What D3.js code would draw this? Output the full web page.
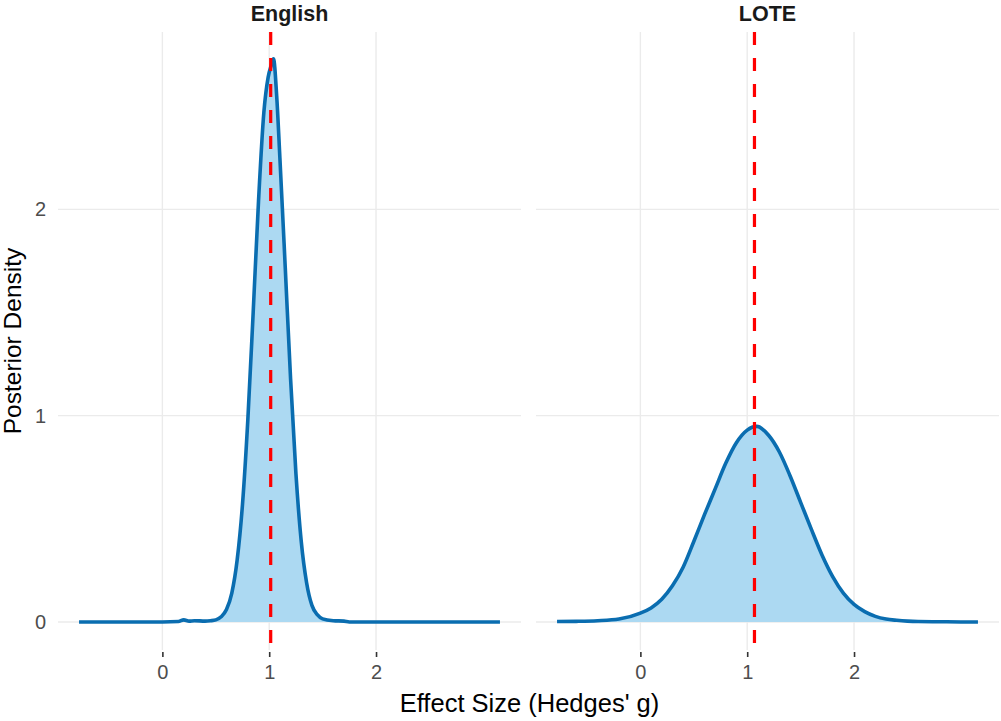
<!DOCTYPE html>
<html>
<head>
<meta charset="utf-8">
<script src="https://cdn.jsdelivr.net/npm/d3@7"></script>
<style>
  body { margin: 0; background: #fff; }
  text { font-family: "Liberation Sans", Arial, sans-serif; }
</style>
</head>
<body>
<div id="container"></div>
<script>
/* DATA */
const facets = ["English", "LOTE"];
const xTicks = [0, 1, 2];
const yTicks = [0, 1, 2];
const medians = [1.014, 1.068];

const englishX = [-0.78, -0.5, 0.0, 0.15, 0.2, 0.25, 0.3, 0.4, 0.45, 0.5, 0.55, 0.6, 0.65, 0.7, 0.75, 0.8, 0.85, 0.9, 0.95, 0.99, 1.02, 1.04, 1.07, 1.1, 1.15, 1.2, 1.25, 1.3, 1.35, 1.4, 1.45, 1.5, 1.6, 1.7, 1.75, 2.0, 2.5, 3.16];
const englishDensity = [0.0, 0.0, 0.0, 0.002, 0.01, 0.004, 0.006, 0.004, 0.006, 0.01, 0.025, 0.06, 0.14, 0.30, 0.57, 0.98, 1.50, 2.04, 2.47, 2.64, 2.70, 2.73, 2.55, 2.25, 1.72, 1.18, 0.72, 0.39, 0.19, 0.08, 0.035, 0.015, 0.006, 0.004, 0.0, 0.0, 0.0, 0.0];

const loteX = [-0.78, -0.6, -0.4, -0.2, 0.0, 0.1, 0.2, 0.3, 0.4, 0.5, 0.6, 0.7, 0.8, 0.9, 1.0, 1.09, 1.2, 1.3, 1.4, 1.5, 1.6, 1.7, 1.8, 1.9, 2.0, 2.1, 2.2, 2.3, 2.4, 2.5, 2.6, 2.8, 3.0, 3.16];
const loteDensity = [0.002, 0.003, 0.006, 0.014, 0.043, 0.068, 0.11, 0.175, 0.265, 0.39, 0.52, 0.645, 0.77, 0.87, 0.93, 0.948, 0.905, 0.825, 0.71, 0.58, 0.45, 0.325, 0.22, 0.14, 0.085, 0.05, 0.027, 0.014, 0.008, 0.004, 0.002, 0.001, 0.0, 0.0];

const series = [
  englishX.map((x, i) => ({ x, y: englishDensity[i] })),
  loteX.map((x, i) => ({ x, y: loteDensity[i] }))
];

/* LAYOUT */
const width = 1001, height = 721;
const panelW = 463, panelGap = 15, panelLeft = 58;
const panelTop = 32, panelBottom = 650;

const svg = d3.select("#container")
  .append("svg")
  .attr("width", width)
  .attr("height", height);

const x = d3.scaleLinear().domain([-0.977, 3.357]).range([0, panelW]);
const y = d3.scaleLinear().domain([-0.136, 2.86]).range([panelBottom, panelTop]);

const area = d3.area()
  .x(d => x(d.x))
  .y0(y(0))
  .y1(d => y(d.y))
  .curve(d3.curveMonotoneX);

const line = d3.line()
  .x(d => x(d.x))
  .y(d => y(d.y))
  .curve(d3.curveMonotoneX);

facets.forEach((name, i) => {
  const g = svg.append("g")
    .attr("transform", `translate(${panelLeft + i * (panelW + panelGap)},0)`);

  // GRID
  g.selectAll(".vgrid").data(xTicks).enter().append("line")
    .attr("x1", d => x(d)).attr("x2", d => x(d))
    .attr("y1", panelTop).attr("y2", panelBottom)
    .attr("stroke", "#ebebeb").attr("stroke-width", 1.4);
  g.selectAll(".hgrid").data(yTicks).enter().append("line")
    .attr("x1", 0).attr("x2", panelW)
    .attr("y1", d => y(d)).attr("y2", d => y(d))
    .attr("stroke", "#ebebeb").attr("stroke-width", 1.4);

  // DENSITY
  g.append("path")
    .datum(series[i])
    .attr("d", area)
    .attr("fill", "#acd9f2");
  g.append("path")
    .datum(series[i])
    .attr("d", line)
    .attr("fill", "none")
    .attr("stroke", "#0a6db0")
    .attr("stroke-width", 3.6)
    .attr("stroke-linejoin", "round");

  // MEDIAN LINE
  g.append("line")
    .attr("x1", x(medians[i])).attr("x2", x(medians[i]))
    .attr("y1", panelTop).attr("y2", panelBottom)
    .attr("stroke", "#ff0000")
    .attr("stroke-width", 3.2)
    .attr("stroke-dasharray", "13,13");

  // X AXIS
  const xAxis = g.append("g")
    .attr("transform", `translate(0,${panelBottom + 2})`)
    .call(d3.axisBottom(x).tickValues(xTicks).tickSize(5).tickPadding(8).tickFormat(d3.format("d")));
  xAxis.select(".domain").remove();
  xAxis.selectAll(".tick line").attr("stroke", "#333").attr("stroke-width", 1.6);
  xAxis.selectAll(".tick text")
    .attr("fill", "#4d4d4d")
    .style("font-size", "20px")
    .style("font-family", "'Liberation Sans', Arial, sans-serif");

  // FACET TITLE
  g.append("text")
    .attr("x", panelW / 2)
    .attr("y", 21)
    .attr("text-anchor", "middle")
    .attr("font-weight", "bold")
    .attr("font-size", 21.5)
    .attr("fill", "#1a1a1a")
    .text(name);

  // Y AXIS (left panel only)
  if (i === 0) {
    const yAxis = g.append("g")
      .call(d3.axisLeft(y).tickValues(yTicks).tickSize(0).tickPadding(12).tickFormat(d3.format("d")));
    yAxis.select(".domain").remove();
    yAxis.selectAll(".tick text")
      .attr("fill", "#4d4d4d")
      .style("font-size", "20px")
      .style("font-family", "'Liberation Sans', Arial, sans-serif");
  }
});

// AXIS TITLES
svg.append("text")
  .attr("x", (panelLeft + width) / 2)
  .attr("y", 712)
  .attr("text-anchor", "middle")
  .attr("font-size", 25.5)
  .attr("fill", "#000")
  .text("Effect Size (Hedges' g)");

svg.append("text")
  .attr("transform", `translate(21,${(panelTop + panelBottom) / 2}) rotate(-90)`)
  .attr("text-anchor", "middle")
  .attr("font-size", 24.5)
  .attr("fill", "#000")
  .text("Posterior Density");
</script>
</body>
</html>
